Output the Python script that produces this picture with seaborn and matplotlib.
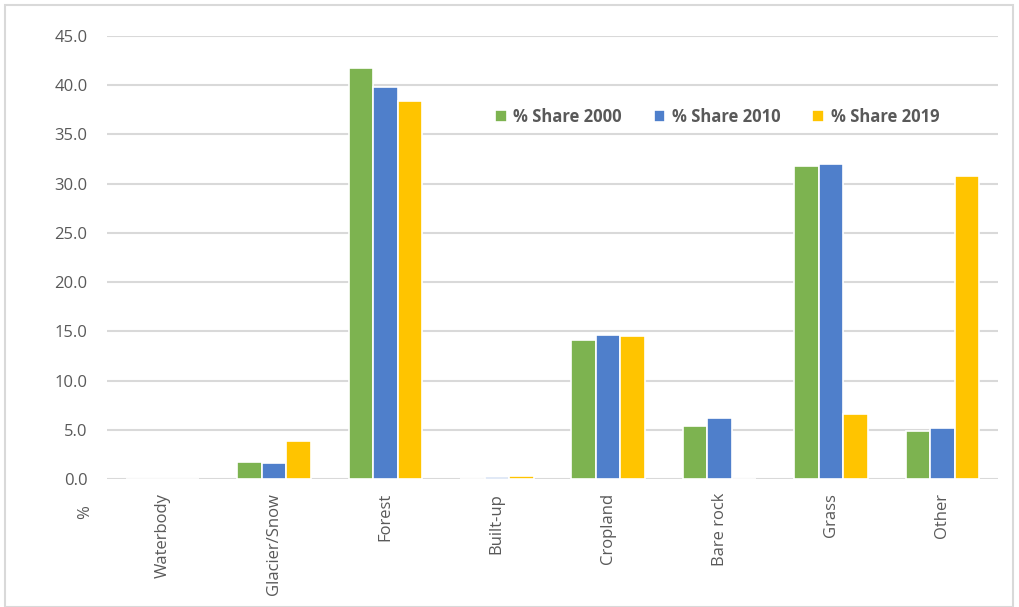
import matplotlib
matplotlib.use("Agg")
import matplotlib.pyplot as plt
import seaborn as sns
import pandas as pd
from matplotlib.patches import Rectangle

categories = ["Waterbody", "Glacier/Snow", "Forest", "Built-up", "Cropland", "Bare rock", "Grass", "Other"]
series_names = ["% Share 2000", "% Share 2010", "% Share 2019"]
share_2000 = [0.0, 1.7, 41.7, 0.0, 14.1, 5.4, 31.8, 4.9]
share_2010 = [0.0, 1.6, 39.8, 0.2, 14.6, 6.2, 32.0, 5.2]
share_2019 = [0.0, 3.9, 38.4, 0.3, 14.5, 0.0, 6.6, 30.8]
y_ticks = [0, 5, 10, 15, 20, 25, 30, 35, 40, 45]
colors = ["#7DB350", "#4F7FCB", "#FFC400"]

rows = []
for name, vals in zip(series_names, [share_2000, share_2010, share_2019]):
    for c, v in zip(categories, vals):
        rows.append({"Category": c, "Series": name, "Value": v})
df = pd.DataFrame(rows)

sns.set_theme(style="white")
plt.rcParams["font.family"] = ["Open Sans", "DejaVu Sans"]

fig = plt.figure(figsize=(10.19, 6.07), dpi=100)
ax = fig.add_axes([107 / 1019, 1 - 479 / 607, (998 - 107) / 1019, (479 - 36) / 607])

sns.barplot(data=df, x="Category", y="Value", hue="Series", hue_order=series_names,
            order=categories, palette=colors, saturation=1, width=0.66, ax=ax,
            edgecolor="white", linewidth=1.2, errorbar=None, zorder=3)

ax.set_ylim(0, 45)
ax.set_yticks(y_ticks)
ax.set_yticklabels([f"{t:.1f}" for t in y_ticks], color="#595959", fontsize=12)
ax.set_xlim(-0.5, len(categories) - 0.5)
ax.set_xticks(range(len(categories)))
ax.set_xticklabels(categories, rotation=90, color="#595959", fontsize=12)
ax.tick_params(axis="both", length=0, pad=14)
ax.tick_params(axis="x", pad=10)
ax.yaxis.grid(True, color="#D9D9D9", linewidth=1.5, zorder=0)
ax.set_axisbelow(True)
for s in ax.spines.values():
    s.set_visible(False)
ax.set_xlabel("")
ax.set_ylabel("")

fig.text(85 / 1019, 1 - 512 / 607, "%", rotation=90, color="#595959", fontsize=12,
         ha="center", va="center")

leg = ax.legend(loc="upper left", bbox_to_anchor=((480 - 107) / (998 - 107), 1 - (93 - 36) / (479 - 36)),
                ncol=3, frameon=False, fontsize=12, handlelength=0.7, handleheight=0.7,
                columnspacing=1.9, handletextpad=0.4)
for t in leg.get_texts():
    t.set_color("#595959")
    t.set_fontweight("bold")

fig.patches.append(Rectangle((5 / 1019, 0), 1008 / 1019, 1 - 5 / 607, transform=fig.transFigure,
                             fill=False, edgecolor="#D9D9D9", linewidth=1.5))

fig.savefig("out.png", dpi=100, facecolor="white")
